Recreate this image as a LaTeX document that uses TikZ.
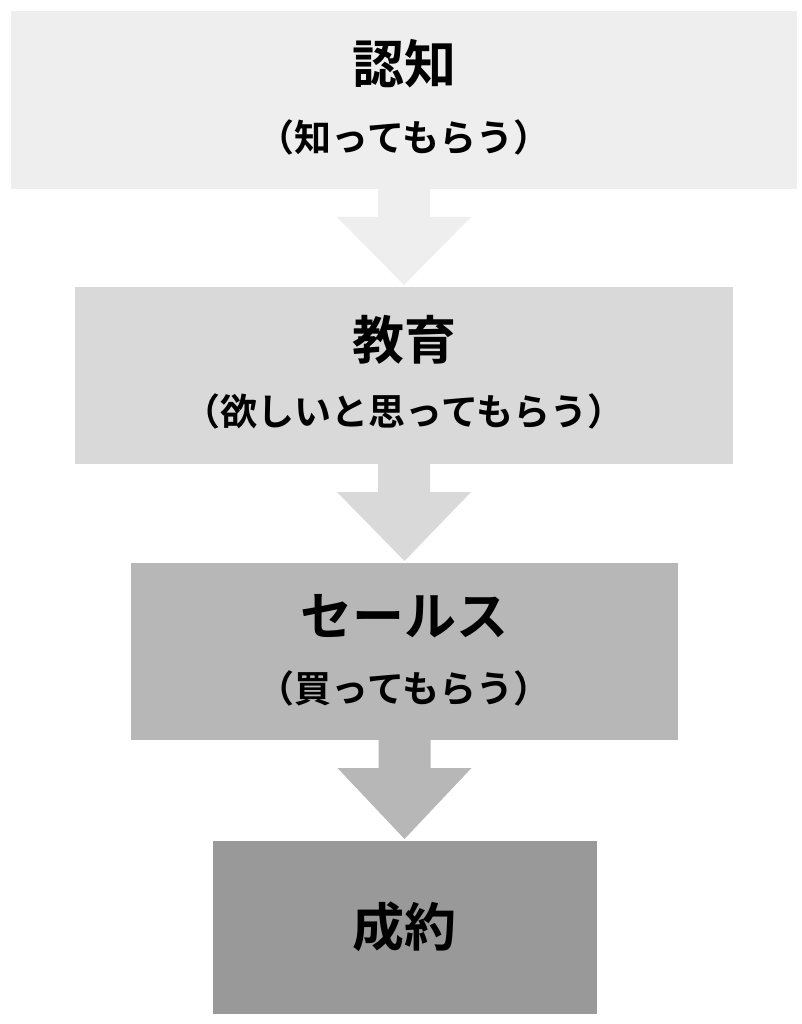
\documentclass[tikz,border=0pt]{standalone}
\usepackage{fontspec}
\setmainfont{Noto Sans CJK JP}
\newfontfamily\jpbold{Noto Sans CJK JP Bold}
\usetikzlibrary{calc}
\definecolor{c1}{HTML}{EEEEEE}
\definecolor{c2}{HTML}{D9D9D9}
\definecolor{c3}{HTML}{B7B7B7}
\definecolor{c4}{HTML}{999999}
\tikzset{
  stagebox/.style={draw=none, inner sep=0pt, outer sep=0pt},
  titletext/.style={font=\jpbold\fontsize{52}{56}\selectfont, inner sep=0pt},
  subtext/.style={font=\jpbold\fontsize{37}{40}\selectfont, inner sep=0pt},
}
\newcommand{\flowarrow}[3]{%
  \fill[#3] ($(#1.south)+(-26,0)$) -- ($(#1.south)+(26,0)$) --
    ($(#1.south)+(26,28)$) -- ($(#1.south)+(67,28)$) --
    ($(#2.north)+(0,-2)$) --
    ($(#1.south)+(-67,28)$) -- ($(#1.south)+(-26,28)$) -- cycle;}
\begin{document}
\begin{tikzpicture}[x=1pt,y=-1pt]
\useasboundingbox (0,0) rectangle (802,1024);
\fill[white] (0,0) rectangle (802,1024);
% boxes
\node[stagebox, minimum width=786pt, minimum height=178pt, fill=c1] (b1) at (404,100) {};
\node[stagebox, minimum width=658pt, minimum height=177pt, fill=c2] (b2) at (404,375.5) {};
\node[stagebox, minimum width=547pt, minimum height=177pt, fill=c3] (b3) at (404.5,651.5) {};
\node[stagebox, minimum width=384pt, minimum height=173pt, fill=c4] (b4) at (404.5,927.5) {};
% arrows
\flowarrow{b1}{b2}{c1}
\flowarrow{b2}{b3}{c2}
\flowarrow{b3}{b4}{c3}
% texts
\node[titletext] (t1) at (404,64) {認知};
\node[subtext] (s1) at (404,137) {（知ってもらう）};
\node[titletext] (t2) at (404,340) {教育};
\node[subtext] (s2) at (404,411) {（欲しいと思ってもらう）};
\node[titletext] (t3) at (404,616) {セールス};
\node[subtext] (s3) at (404,688) {（買ってもらう）};
\node[titletext] (t4) at (404,927) {成約};
\end{tikzpicture}
\end{document}
